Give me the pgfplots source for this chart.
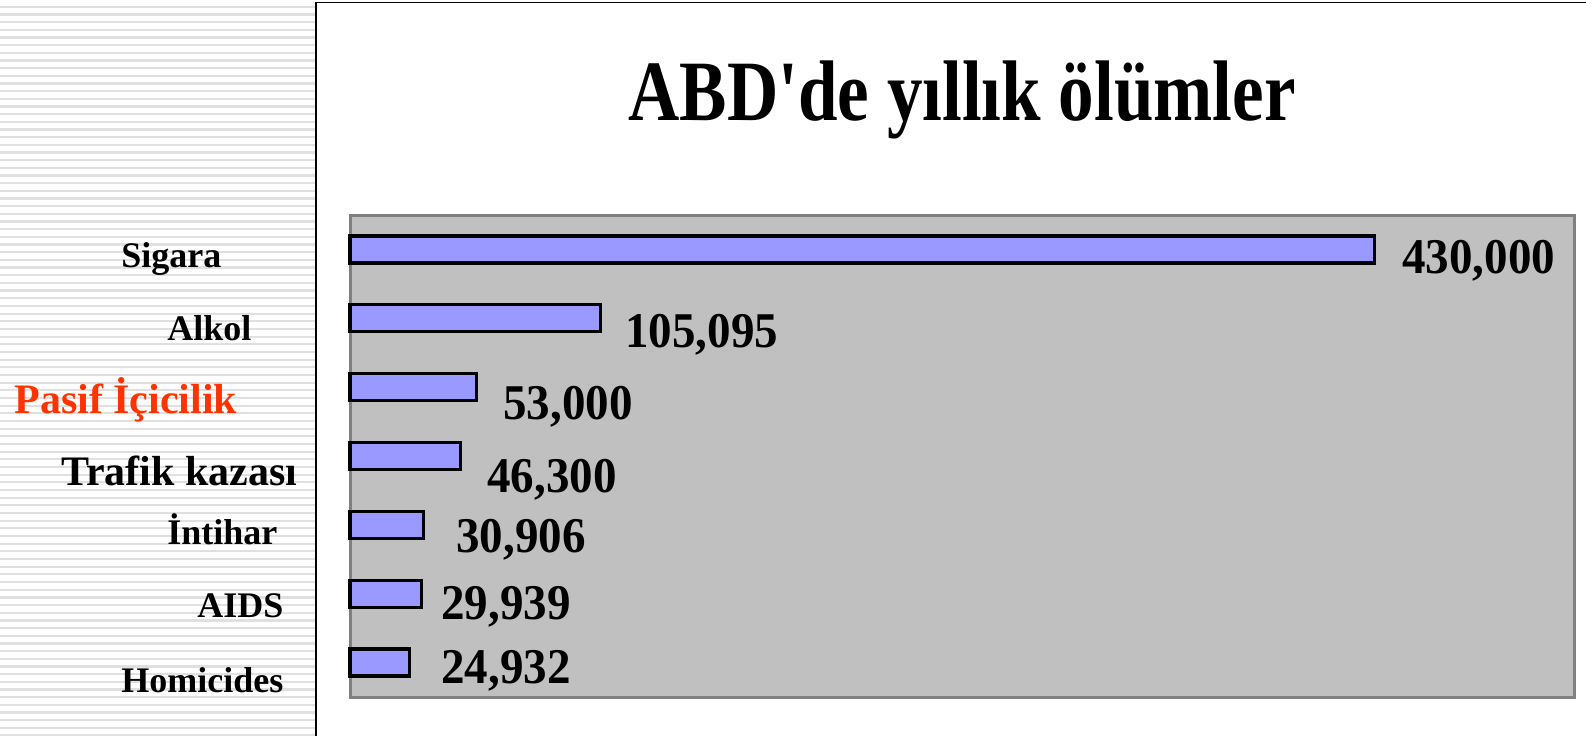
\documentclass[border=0pt]{standalone}
\usepackage{fontspec}
\setmainfont{Liberation Serif}
\usepackage{pgfplots}
\pgfplotsset{compat=1.18}
\definecolor{barfill}{HTML}{9999FF}
\definecolor{plotbg}{HTML}{C0C0C0}
\definecolor{plotframe}{HTML}{808080}
\definecolor{stripe}{HTML}{E0E0E0}
\definecolor{pasif}{HTML}{FF3300}
\newcommand\val[1]{\scalebox{0.94}[1]{\fontsize{25pt}{30pt}\selectfont\bfseries #1}}
\newcommand\lab[1]{\fontsize{18pt}{22pt}\selectfont\bfseries #1}
\newcommand\labB[1]{\fontsize{21pt}{25pt}\selectfont\bfseries #1}
\begin{document}
\begin{tikzpicture}[x=0.5pt,y=-0.5pt]
\useasboundingbox (0,0) rectangle (1586,735);
\fill[white] (0,0) rectangle (1586,735);
\foreach \i in {0,...,95} { \fill[stripe] (0,{5.7+\i*7.67}) rectangle (316,{7.9+\i*7.67}); }
\draw[black, line width=0.6pt] (316,736) -- (316,2.5) -- (1590,2.5);
\node[anchor=base, inner sep=0] at (962,120) {\scalebox{0.826}[1]{\fontsize{43pt}{50pt}\selectfont\bfseries ABD\textquotesingle de yıllık ölümler}};
\begin{axis}[at={(175pt,-107.5pt)}, anchor=north west, scale only axis,
  width=612pt, height=241pt, xbar, bar width=13.5pt,
  xmin=0, xmax=513560, ymin=-0.5, ymax=6.5, y dir=reverse,
  xtick=\empty, ytick=\empty, clip=false,
  axis background/.style={fill=plotbg},
  axis line style={draw=plotframe, line width=1.5pt}]
\addplot[fill=barfill, draw=black, line width=1.6pt] coordinates {(430000,0) (105095,1) (53000,2) (46300,3) (30906,4) (29939,5) (24932,6)};
\end{axis}
% value labels
\node[anchor=base west, inner sep=0] at (1402,273) {\val{430,000}};
\node[anchor=base west, inner sep=0] at (625,347) {\val{105,095}};
\node[anchor=base west, inner sep=0] at (503,419) {\val{53,000}};
\node[anchor=base west, inner sep=0] at (487,492) {\val{46,300}};
\node[anchor=base west, inner sep=0] at (456,552) {\val{30,906}};
\node[anchor=base west, inner sep=0] at (441,619) {\val{29,939}};
\node[anchor=base west, inner sep=0] at (441,683) {\val{24,932}};
% category labels
\node[anchor=base west, inner sep=0] at (121,267) {\lab{Sigara}};
\node[anchor=base west, inner sep=0] at (167,340) {\lab{Alkol}};
\node[anchor=base west, inner sep=0, text=pasif] at (14,413) {\labB{Pasif İçicilik}};
\node[anchor=base west, inner sep=0] at (61,485) {\labB{Trafik kazası}};
\node[anchor=base west, inner sep=0] at (167,544) {\lab{İntihar}};
\node[anchor=base west, inner sep=0] at (197,617) {\lab{AIDS}};
\node[anchor=base west, inner sep=0] at (121,692) {\lab{Homicides}};
\end{tikzpicture}
\end{document}
